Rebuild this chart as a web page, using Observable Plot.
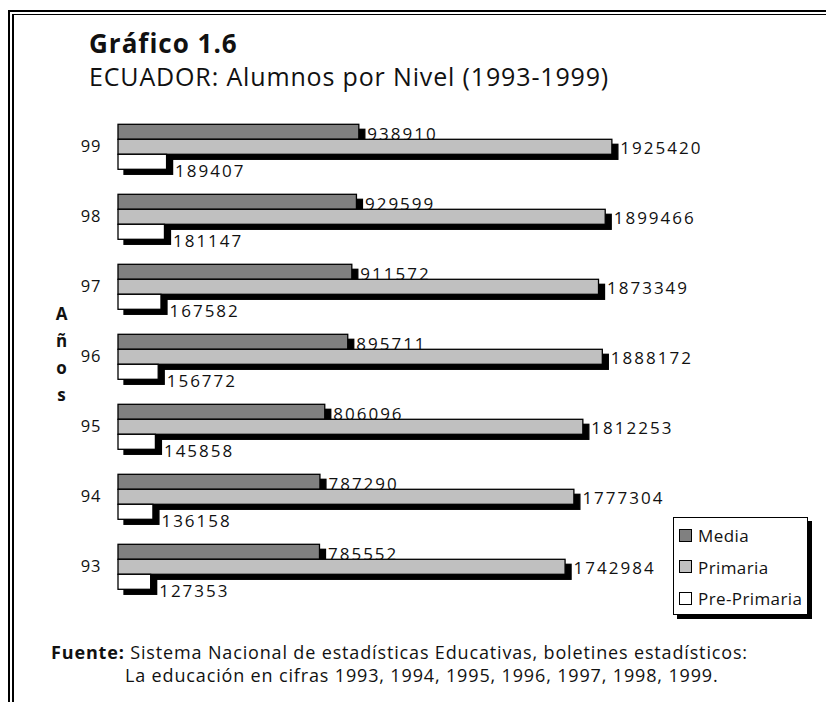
<!DOCTYPE html>
<html>
<head>
<meta charset="utf-8">
<script src="https://cdn.jsdelivr.net/npm/d3@7"></script>
<script src="https://cdn.jsdelivr.net/npm/@observablehq/plot@0.6"></script>
<style>
  html, body { margin: 0; padding: 0; background: #fff; }
  body { width: 826px; height: 702px; position: relative; overflow: hidden; font-family: "Open Sans", sans-serif; color: #111; }
  .abs { position: absolute; white-space: nowrap; line-height: 1; }
  .line { position: absolute; background: #000; }
  #chart { position: absolute; left: 0; top: 100px; }
  #chart g[aria-label="text"] text { letter-spacing: 2px; }
  #chart g[aria-label="fy-axis tick label"] text { letter-spacing: 1px; }
  .legend { position: absolute; left: 673px; top: 517px; width: 133px; height: 96px; border: 1.5px solid #000; box-shadow: 4px 4px 0 #000; background: #fff; }
  .legend .sw { position: absolute; left: 5px; width: 11px; height: 11px; border: 1.5px solid #000; }
  .legend .lb { position: absolute; left: 24px; font-size: 17px; letter-spacing: 0.4px; line-height: 1; white-space: nowrap; }
</style>
</head>
<body>
<div class="line" style="left:8px;top:10px;width:818px;height:2px"></div>
<div class="line" style="left:8px;top:10px;width:2px;height:692px"></div>
<div class="line" style="left:12px;top:13.5px;width:814px;height:1.5px"></div>
<div class="line" style="left:12px;top:13.5px;width:1.5px;height:689px"></div>

<div class="abs" style="left:89px;top:30.2px;font-size:26px;font-weight:700;letter-spacing:1px">Gráfico 1.6</div>
<div class="abs" style="left:89px;top:63.8px;font-size:25px;letter-spacing:0.85px">ECUADOR: Alumnos por Nivel (1993-1999)</div>

<div class="abs" id="anos" style="left:53px;top:300px;width:17px;text-align:center;font-size:17px;font-weight:700;line-height:27px">A<br>ñ<br>o<br>s</div>

<div id="chart"></div>

<div class="legend" id="legend"></div>

<div class="abs" style="left:51px;top:643.3px;font-size:18px;letter-spacing:0.85px"><b style="font-weight:700">Fuente:</b> Sistema Nacional de estadísticas Educativas, boletines estadísticos:</div>
<div class="abs" style="left:125px;top:665.7px;font-size:18px;letter-spacing:0.85px">La educación en cifras 1993, 1994, 1995, 1996, 1997, 1998, 1999.</div>

<script>
const years = ["99", "98", "97", "96", "95", "94", "93"];
const series = ["Media", "Primaria", "Pre-Primaria"];
const media = [938910, 929599, 911572, 895711, 806096, 787290, 785552];
const primaria = [1925420, 1899466, 1873349, 1888172, 1812253, 1777304, 1742984];
const prePrimaria = [189407, 181147, 167582, 156772, 145858, 136158, 127353];
const colors = ["#808080", "#c0c0c0", "#ffffff"];

const valuesBySeries = [media, primaria, prePrimaria];
const rows = [];
years.forEach((y, i) => {
  series.forEach((s, j) => rows.push({year: y, series: s, value: valuesBySeries[j][i]}));
});

const labelDy = {"Media": 2, "Primaria": 1, "Pre-Primaria": 9};
const labelMarks = series.map(s => Plot.text(rows.filter(d => d.series === s), {
  x: "value", y: "series", fy: "year", text: d => String(d.value),
  textAnchor: "start", dx: 8, dy: labelDy[s], fontSize: 17, fill: "#111"
}));

const chart = Plot.plot({
  width: 826,
  height: 520,
  marginLeft: 118,
  marginRight: 195,
  marginTop: 20.7,
  marginBottom: 28.3,
  style: {fontFamily: "'Open Sans', sans-serif", fontSize: "16.5px", color: "#111", background: "transparent"},
  x: {domain: [0, 2000000], axis: null},
  y: {domain: series, padding: 0, axis: null},
  fy: {domain: years, paddingInner: 0.33, paddingOuter: 0, label: null, tickSize: 0, tickPadding: 17, axis: "left"},
  color: {domain: series, range: colors},
  marks: [
    ...labelMarks,
    Plot.barX(rows, {x: "value", y: "series", fy: "year", fill: "#000", stroke: "#000", strokeWidth: 1.3, dx: 6, dy: 5}),
    Plot.barX(rows, {x: "value", y: "series", fy: "year", fill: "series", stroke: "#000", strokeWidth: 1.3})
  ]
});
document.getElementById("chart").appendChild(chart);

const legend = document.getElementById("legend");
series.forEach((s, j) => {
  const top = 10.5 + j * 31.7;
  const sw = document.createElement("div");
  sw.className = "sw"; sw.style.top = top + "px"; sw.style.background = colors[j];
  legend.appendChild(sw);
  const lb = document.createElement("div");
  lb.className = "lb"; lb.style.top = (top - 1.5) + "px"; lb.textContent = s;
  legend.appendChild(lb);
});
</script>
</body>
</html>
